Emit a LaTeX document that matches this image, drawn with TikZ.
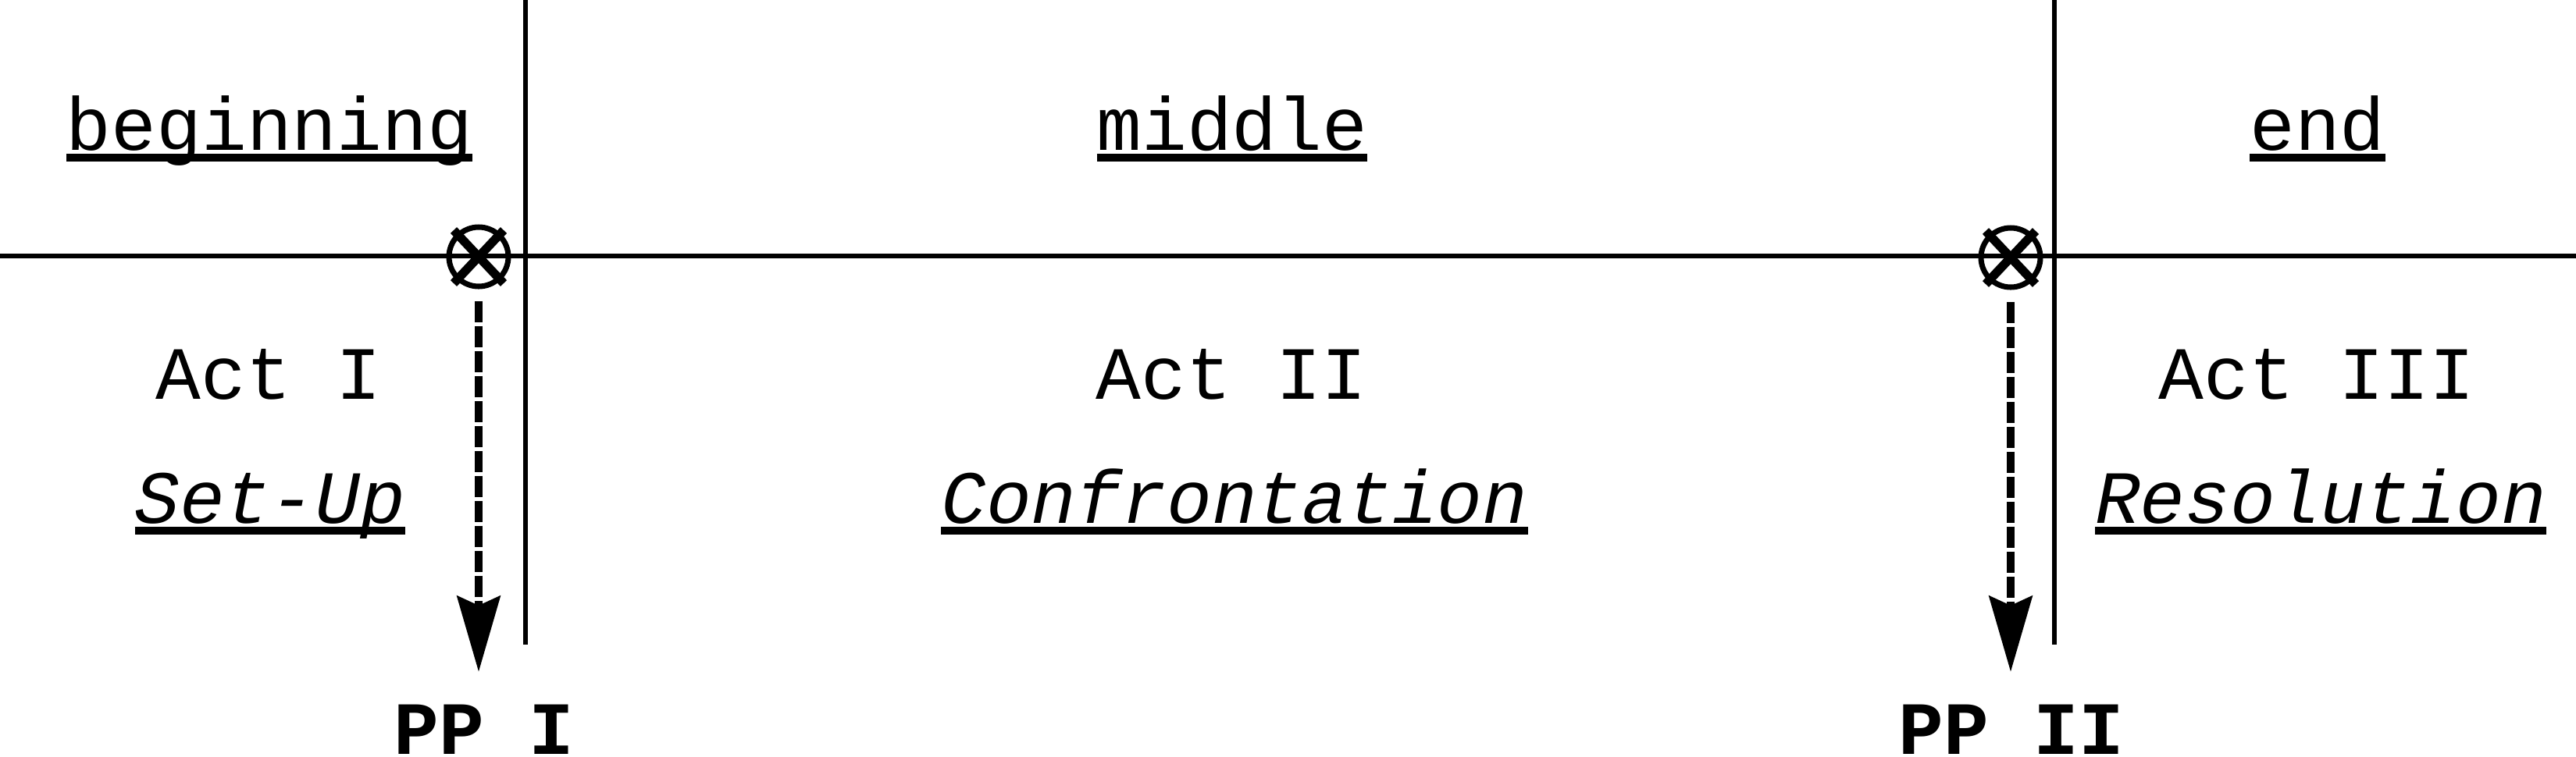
\documentclass[tikz,border=0pt]{standalone}
\usepackage{fontspec}
\setmainfont{Liberation Mono}
\usetikzlibrary{arrows.meta, calc}
\newcommand{\ulword}[1]{\setbox0\hbox{#1}\rlap{\rule[-0.155em]{\wd0}{0.1em}}\box0}
\tikzset{
    axisline/.style={line width=1.9pt, color=black},
    marker/.style={circle, draw=black, line width=2pt, minimum size=0.76cm, inner sep=0pt},
    xline/.style={line width=3.2pt, color=black},
    ppline/.style={-{Stealth[length=0.97cm, width=0.55cm, inset=0.12cm]}, line width=2.8pt,
      dash pattern=on 0.27cm off 0.05cm, shorten <=0.15cm, shorten >=0.41cm},
    partlbl/.style={font=\fontsize{27.4pt}{32pt}\selectfont, anchor=base, inner sep=0pt},
    modelbl/.style={font=\fontsize{27.4pt}{32pt}\selectfont\itshape, anchor=base, inner sep=0pt},
    pplbl/.style={font=\fontsize{27.4pt}{32pt}\selectfont\bfseries, anchor=base, inner sep=0pt}
}
\begin{document}
\begin{tikzpicture}
    \useasboundingbox (0,0) rectangle (32.99,-9.69);
    % timeline and act borders
    \draw[axisline] (0,-3.28) -- (32.99,-3.28);
    \draw[axisline] (6.73,0) -- (6.73,-8.26);
    \draw[axisline] (26.31,0) -- (26.31,-8.26);
    % parts
    \node[partlbl] (beg) at (3.45,-1.92) {\ulword{beginning}};
    \node[partlbl] (mid) at (15.78,-1.92) {\ulword{middle}};
    \node[partlbl] (fin) at (29.68,-1.92) {\ulword{end}};
    % acts
    \node[partlbl] (act1) at (3.44,-5.11) {Act I};
    \node[partlbl] (act2) at (15.77,-5.11) {Act II};
    \node[partlbl] (act3) at (29.67,-5.11) {Act III};
    \node[modelbl] (setup) at (3.46,-6.70) {\ulword{Set-Up}};
    \node[modelbl] (confr) at (15.81,-6.70) {\ulword{Confrontation}};
    \node[modelbl] (resol) at (29.72,-6.70) {\ulword{Resolution}};
    % plot points
    \node[marker] (m1) at (6.13,-3.29) {};
    \node[marker] (m2) at (25.75,-3.30) {};
    \foreach \m in {m1,m2} {
      \draw[xline] ([shift={(-0.32,0.34)}]\m.center) -- ([shift={(0.32,-0.34)}]\m.center);
      \draw[xline] ([shift={(0.32,0.34)}]\m.center) -- ([shift={(-0.32,-0.34)}]\m.center);
    }
    \node[pplbl] (pp1) at (6.20,-9.66) {PP I};
    \node[pplbl] (pp2) at (25.76,-9.66) {PP II};
    \draw[ppline] (m1.south) -- (m1.south |- pp1.north);
    \draw[ppline] (m2.south) -- (m2.south |- pp2.north);
\end{tikzpicture}
\end{document}
